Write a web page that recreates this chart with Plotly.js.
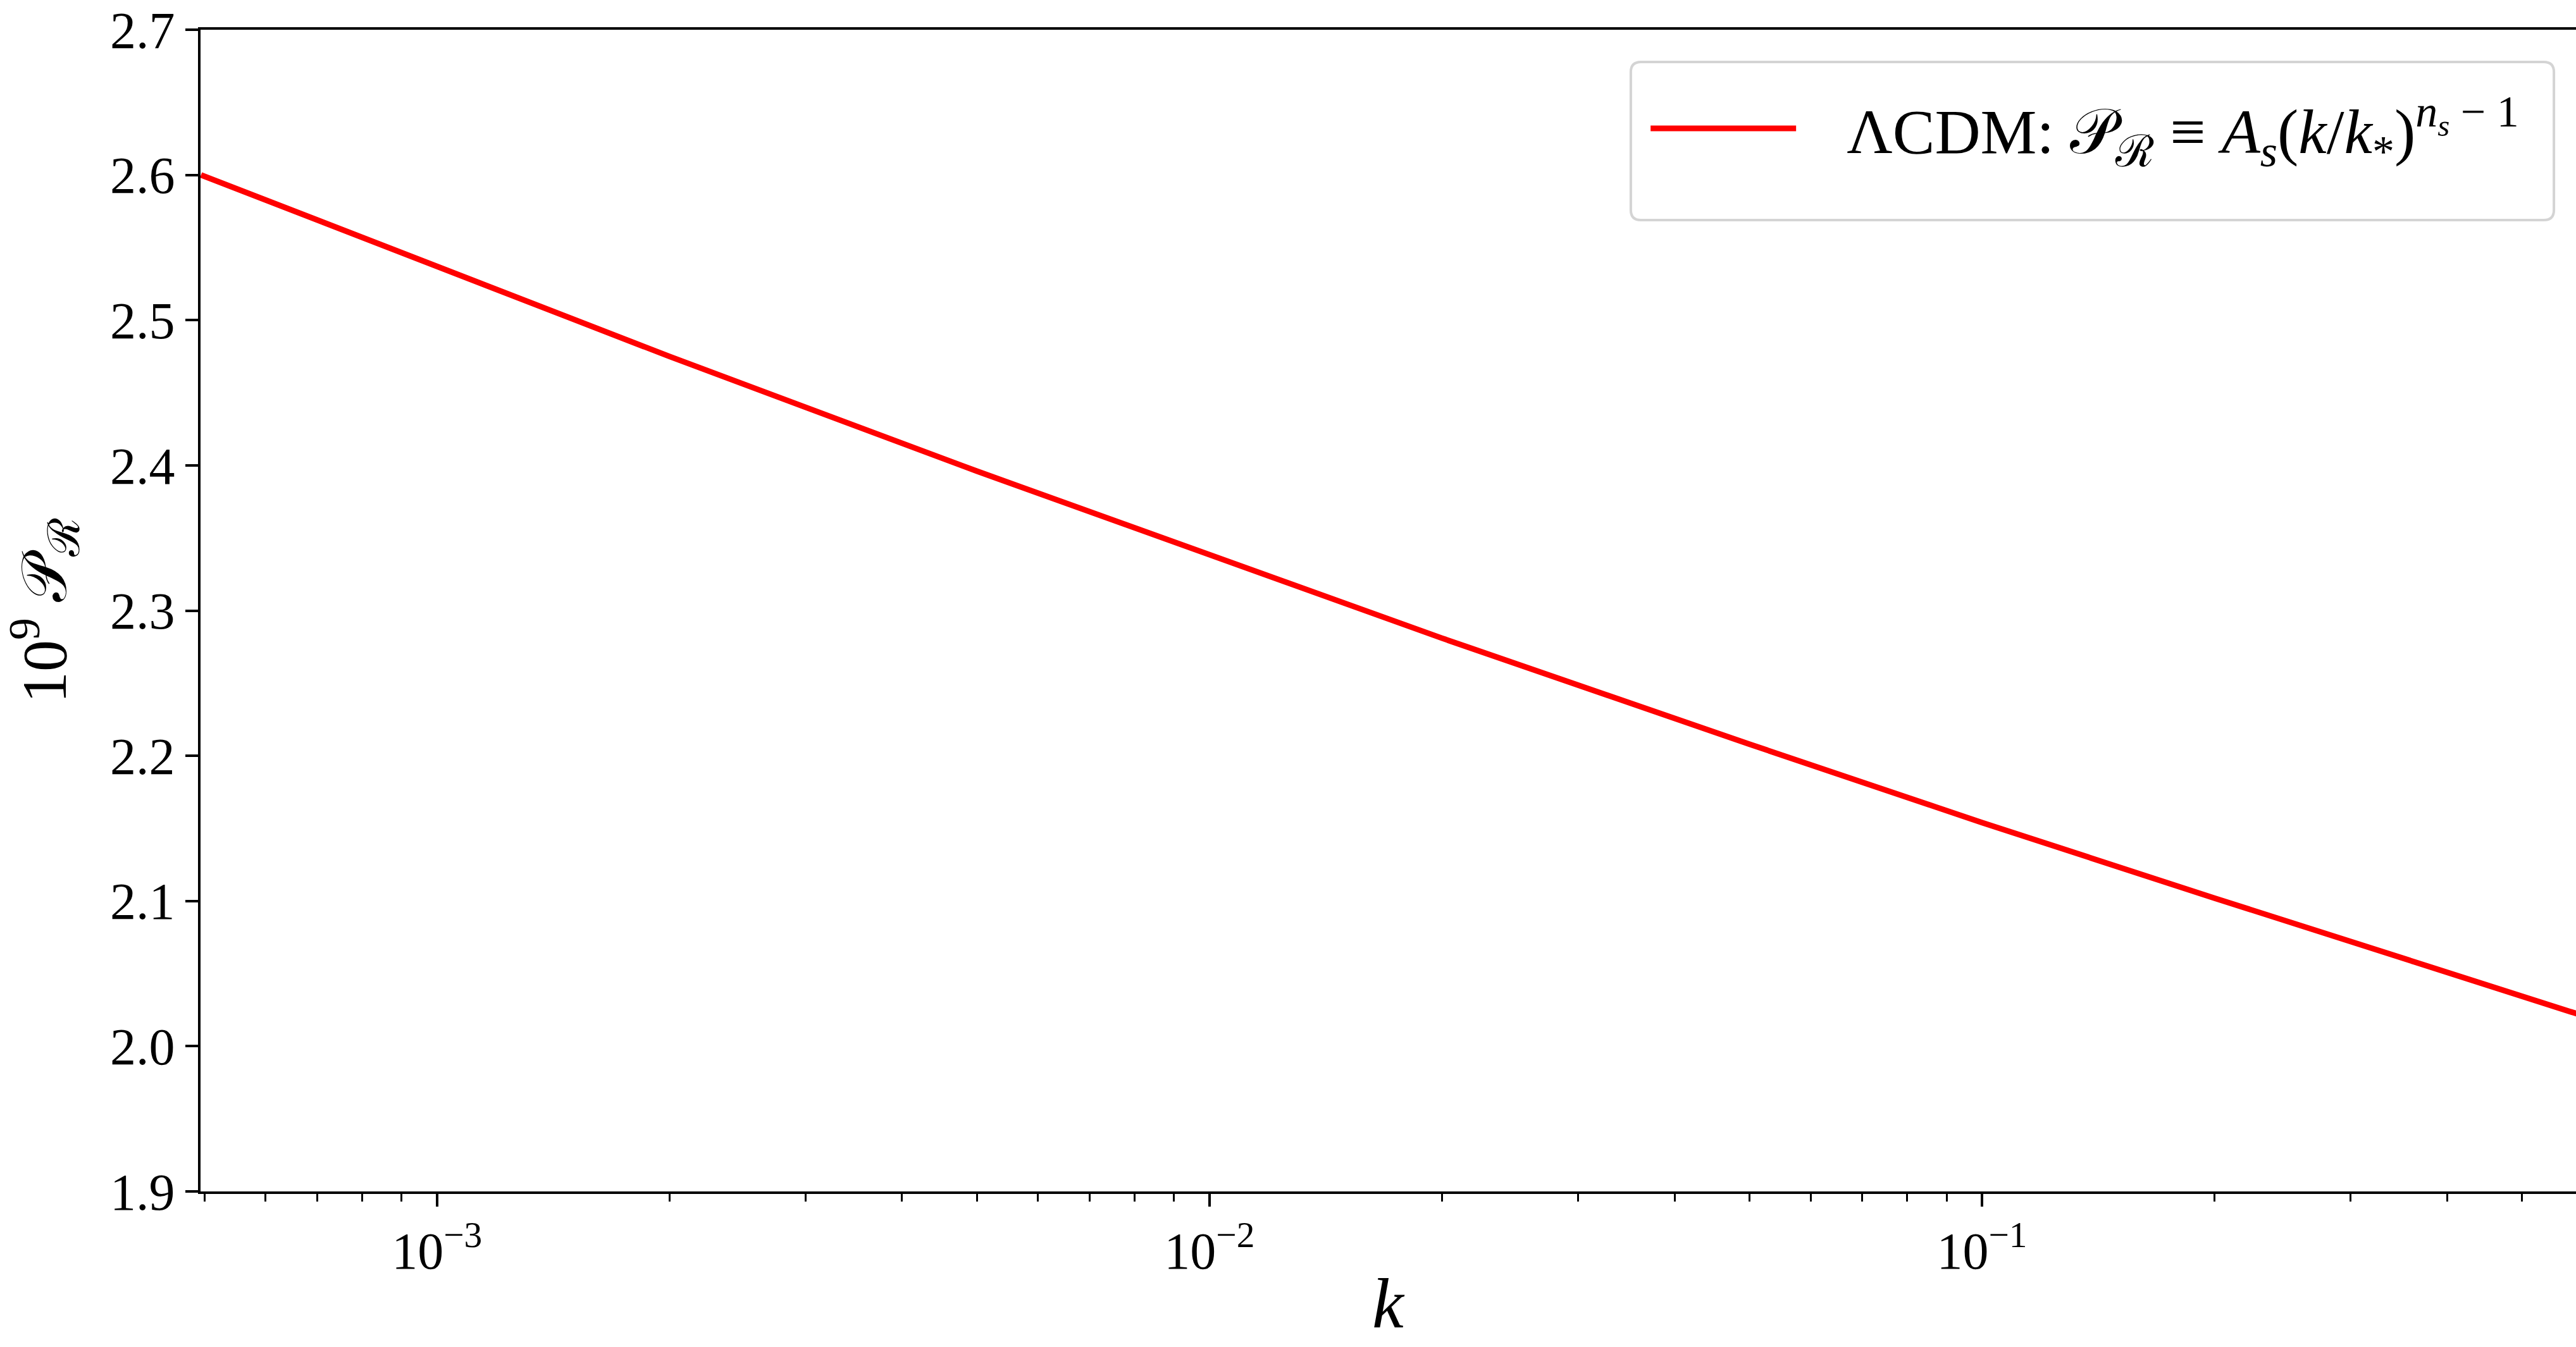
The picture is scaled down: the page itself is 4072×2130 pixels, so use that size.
<!DOCTYPE html>
<html>
<head>
<meta charset="utf-8">
<script src="https://cdn.plot.ly/plotly-3.0.1.min.js"></script>
<style>
html, body { margin: 0; padding: 0; background: #ffffff; overflow: hidden; }
#chart { width: 4072px; height: 2130px; }
</style>
</head>
<body>
<div id="chart"></div>
<script>
// Data
const kValues = [4.95e-4, 1e-3, 2e-3, 5e-3, 1e-2, 2e-2, 5e-2, 1e-1, 2e-1, 5e-1, 0.6];
const powerValues = [2.600, 2.537, 2.475, 2.396, 2.338, 2.281, 2.208, 2.154, 2.102, 2.035, 2.021];
const seriesName = '&nbsp;&nbsp;&nbsp;ΛCDM: 𝒫<sub>ℛ</sub> ≡ <i>A</i><sub><i>s</i></sub>(<i>k</i>/<i>k</i><sub>*</sub>)<sup><i>n<sub>s</sub></i> − 1</sup>';
const yTickValues = [1.9, 2.0, 2.1, 2.2, 2.3, 2.4, 2.5, 2.6, 2.7];
const yTickLabels = ['1.9', '2.0', '2.1', '2.2', '2.3', '2.4', '2.5', '2.6', '2.7'];
const xTickValues = [1e-3, 1e-2, 1e-1];
const xTickLabels = ['10<sup>−3</sup>', '10<sup>−2</sup>', '10<sup>−1</sup>'];
const xTitle = '<i>k</i>';
const yTitle = '10<sup>9</sup> 𝒫<sub>ℛ</sub>';

// minor log ticks 2..9 in each decade
const minorVals = [];
for (let d = -4; d <= 0; d++) {
  for (let m = 2; m <= 9; m++) minorVals.push(m * Math.pow(10, d));
}

const FONT = 'Liberation Serif, DejaVu Serif, serif';

// legend frame (paper coordinates) with rounded corners
const PW = 3755, PH = 1837;          // plot area size in px
const bx0 = 0.6021, bx1 = 0.9907, by0 = 0.8361, by1 = 0.9722;
const rx = 16 / PW, ry = 16 / PH;
const framePath =
  `M ${bx0 + rx},${by1} L ${bx1 - rx},${by1} Q ${bx1},${by1} ${bx1},${by1 - ry} ` +
  `L ${bx1},${by0 + ry} Q ${bx1},${by0} ${bx1 - rx},${by0} ` +
  `L ${bx0 + rx},${by0} Q ${bx0},${by0} ${bx0},${by0 + ry} ` +
  `L ${bx0},${by1 - ry} Q ${bx0},${by1} ${bx0 + rx},${by1} Z`;

const traces = [{
  type: 'scatter',
  mode: 'lines',
  x: kValues,
  y: powerValues,
  name: seriesName,
  line: { color: '#ff0000', width: 9 },
  showlegend: true
}];

const layout = {
  width: 4072,
  height: 2130,
  margin: { l: 317, r: 0, t: 47, b: 246, pad: 0 },
  paper_bgcolor: '#ffffff',
  plot_bgcolor: '#ffffff',
  font: { family: FONT, color: '#000000', size: 82 },
  showlegend: true,
  xaxis: {
    type: 'log',
    range: [-3.306, -0.231],
    showgrid: false,
    zeroline: false,
    showline: true,
    mirror: true,
    linecolor: '#000000',
    linewidth: 4,
    ticks: 'outside',
    ticklen: 20,
    tickwidth: 4,
    tickcolor: '#000000',
    tickmode: 'array',
    tickvals: xTickValues,
    ticktext: xTickLabels,
    tickfont: { family: FONT, size: 82, color: '#000000' },
    minor: { tickmode: 'array', tickvals: minorVals, ticks: 'outside', ticklen: 12, tickwidth: 3, tickcolor: '#000000', showgrid: false },
    automargin: false
  },
  yaxis: {
    range: [1.9, 2.7],
    showgrid: false,
    zeroline: false,
    showline: true,
    mirror: false,
    linecolor: '#000000',
    linewidth: 4,
    ticks: 'outside',
    ticklen: 20,
    tickwidth: 4,
    tickcolor: '#000000',
    tickmode: 'array',
    tickvals: yTickValues,
    ticktext: yTickLabels,
    tickfont: { family: FONT, size: 82, color: '#000000' },
    title: { text: yTitle, font: { family: FONT, size: 100, color: '#000000' } },
    automargin: false
  },
  annotations: [{
    // x-axis title, placed below the tick labels
    text: xTitle,
    xref: 'paper', yref: 'paper',
    x: 0.5, y: -0.0965,
    xanchor: 'center', yanchor: 'middle',
    showarrow: false,
    borderpad: 0,
    font: { family: FONT, size: 112, color: '#000000' }
  }],
  shapes: [{
    type: 'path',
    xref: 'paper', yref: 'paper',
    path: framePath,
    fillcolor: '#ffffff',
    line: { color: '#d4d4d4', width: 4 },
    layer: 'above'
  }],
  legend: {
    x: 0.6091,
    y: 0.9151,
    xanchor: 'left',
    yanchor: 'middle',
    bgcolor: 'rgba(0,0,0,0)',
    borderwidth: 0,
    font: { family: FONT, size: 100, color: '#000000' },
    itemwidth: 230
  }
};

Plotly.newPlot('chart', traces, layout, { staticPlot: true, displayModeBar: false });
</script>
</body>
</html>
